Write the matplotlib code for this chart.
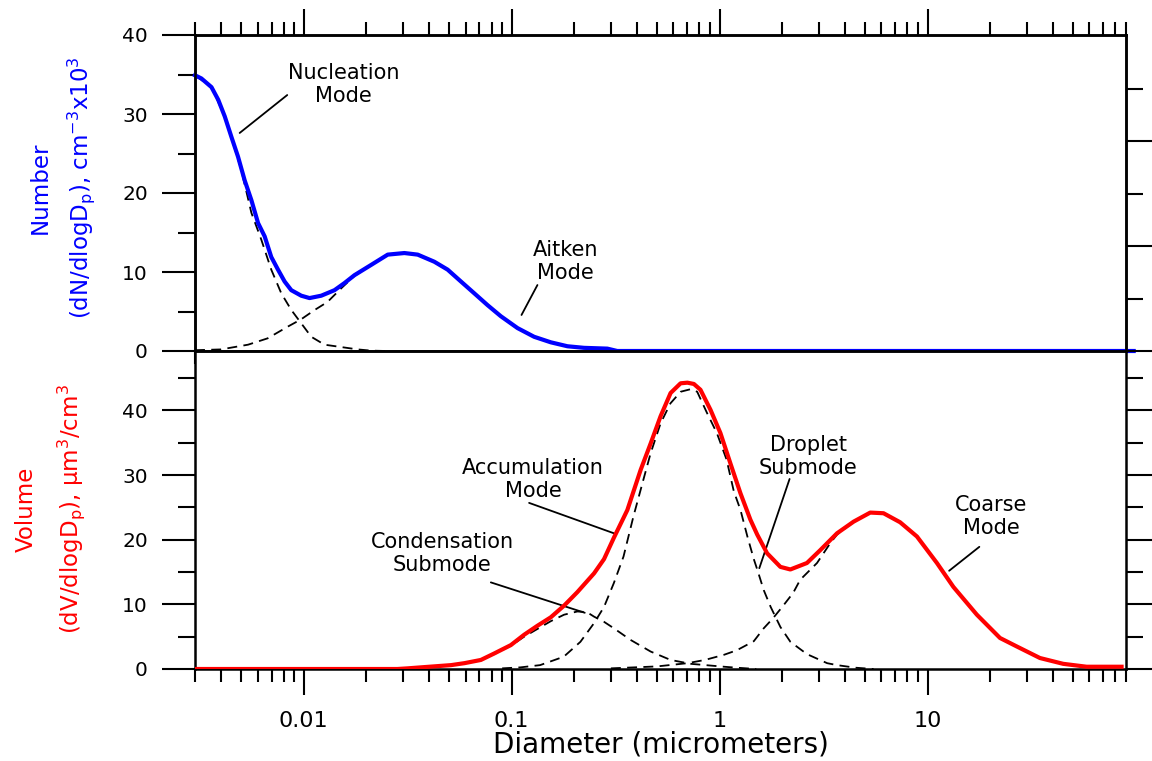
import numpy as np
import matplotlib
matplotlib.use("Agg")
import matplotlib.pyplot as plt
from matplotlib.ticker import FixedLocator, NullFormatter

# ---- datos ----
# panel superior: numero (dN/dlogDp, cm-3 x 10^3)
num_d = [0.003, 0.00322, 0.0036, 0.00388, 0.00417, 0.00449, 0.00483, 0.0052, 0.0056,
         0.00603, 0.00649, 0.00698, 0.00752, 0.00809, 0.00871, 0.00973, 0.01066, 0.01214,
         0.01406, 0.0157, 0.01754, 0.0211, 0.02535, 0.03048, 0.03532, 0.04246, 0.0492,
         0.057, 0.0661, 0.0766, 0.0887, 0.1067, 0.1282, 0.1542, 0.1854, 0.2228, 0.2884,
         0.322, 1.0, 10.0, 98.0]
num_total = [34.9, 34.5, 33.4, 31.8, 29.7, 27.1, 24.6, 21.6, 19.1,
             16.2, 14.5, 11.9, 10.3, 8.8, 7.7, 7.0, 6.7, 7.0,
             7.7, 8.6, 9.6, 10.9, 12.2, 12.4, 12.2, 11.3, 10.3,
             8.8, 7.3, 5.8, 4.4, 2.9, 1.8, 1.1, 0.6, 0.4, 0.3,
             0.0, 0.0, 0.0, 0.0]

nuc_d = [0.003, 0.0036, 0.00417, 0.00449, 0.0050, 0.0056, 0.00625, 0.00698, 0.0078,
         0.00871, 0.00973, 0.01087, 0.01258, 0.01513, 0.0182, 0.021, 0.025]
nuc = [34.9, 33.4, 29.7, 27.0, 23.0, 17.5, 14.1, 10.3, 7.3,
       5.2, 3.5, 1.8, 0.8, 0.5, 0.2, 0.05, 0.0]

ait_d = [0.003, 0.004, 0.0054, 0.0067, 0.0084, 0.0097, 0.0113, 0.013, 0.0151, 0.0175,
         0.0211, 0.02535, 0.03048, 0.03532, 0.04246, 0.0492, 0.057, 0.0661, 0.0766,
         0.0887, 0.1067, 0.1282, 0.1542, 0.1854, 0.2228, 0.2884, 0.322]
ait = [0.1, 0.2, 0.8, 1.6, 3.1, 4.0, 5.2, 6.2, 7.9, 9.5,
       10.9, 12.2, 12.4, 12.2, 11.3, 10.3, 8.8, 7.3, 5.8,
       4.4, 2.9, 1.8, 1.1, 0.6, 0.4, 0.3, 0.0]

# panel inferior: volumen (dV/dlogDp, um3/cm3)
vol_d = [0.003, 0.0282, 0.0316, 0.0511, 0.0592, 0.0711, 0.0824, 0.0991, 0.1148, 0.1331,
         0.1542, 0.1786, 0.207, 0.249, 0.278, 0.31, 0.36, 0.417, 0.466, 0.52, 0.581,
         0.649, 0.70, 0.752, 0.809, 0.904, 1.009, 1.127, 1.259, 1.406, 1.516, 1.692, 1.96,
         2.188, 2.63, 3.05, 3.67, 4.41, 5.3, 6.14, 7.38, 8.89, 11.09, 13.31, 17.26,
         22.3, 26.8, 34.7, 44.9, 58.2, 85.7]
vol_total = [0.0, 0.0, 0.1, 0.6, 0.9, 1.4, 2.4, 3.7, 5.3, 6.7,
             8.0, 9.8, 11.9, 14.8, 17.0, 20.3, 24.6, 30.8, 34.9, 39.1, 42.7,
             44.2, 44.3, 44.1, 43.2, 40.1, 36.5, 31.8, 27.2, 23.1, 20.8, 17.9, 15.8,
             15.4, 16.4, 18.4, 21.0, 22.8, 24.2, 24.1, 22.7, 20.5, 16.4, 12.7, 8.4,
             4.8, 3.5, 1.7, 0.8, 0.35, 0.35]

cond_d = [0.0316, 0.0511, 0.0592, 0.0711, 0.0824, 0.0991, 0.1148, 0.1331, 0.1542,
          0.1786, 0.207, 0.23, 0.249, 0.278, 0.31, 0.373, 0.466, 0.581, 0.727, 1.05,
          1.21, 1.5]
cond = [0.1, 0.6, 0.9, 1.4, 2.3, 3.6, 5.0, 6.2, 7.4,
        8.4, 8.9, 8.8, 8.1, 7.3, 6.3, 4.5, 2.7, 1.4, 0.8, 0.35,
        0.2, 0.0]

drop_d = [0.09, 0.11, 0.137, 0.178, 0.214, 0.249, 0.278, 0.31, 0.345, 0.385, 0.43,
          0.466, 0.52, 0.58, 0.65, 0.727, 0.78, 0.87, 0.97, 1.08, 1.17, 1.26, 1.36,
          1.46, 1.52, 1.63, 1.76, 1.96, 2.19, 2.63, 3.29, 3.67, 4.5, 5.5]
drop = [0.1, 0.25, 0.6, 1.9, 4.2, 7.1, 9.6, 13.3, 17.4, 23.6, 29.3,
        33.4, 38.0, 41.1, 42.9, 43.3, 42.9, 39.6, 36.5, 32.4, 27.5, 24.6, 20.5,
        17.0, 15.3, 12.2, 9.6, 6.5, 4.2, 2.3, 0.9, 0.6, 0.2, 0.0]

coarse_d = [0.3, 0.5, 0.7, 0.85, 1.05, 1.21, 1.46, 1.63, 1.8, 2.0, 2.26, 2.44, 2.94,
            3.41, 3.67, 4.41, 5.3, 6.14, 7.38, 8.89, 11.09, 13.31, 17.26, 22.3, 26.8,
            34.7, 44.9, 58.2, 85.7]
coarse = [0.1, 0.4, 0.9, 1.4, 2.2, 2.9, 4.3, 6.3, 7.8, 9.6, 11.8, 13.8, 16.4,
          19.5, 20.8, 22.8, 24.2, 24.1, 22.7, 20.5, 16.4, 12.7, 8.4, 4.8, 3.5,
          1.7, 0.8, 0.35, 0.35]

xtick_vals = [0.01, 0.1, 1, 10]
xtick_labels = ["0.01", "0.1", "1", "10"]

# ---- figura ----
W, H = 1152, 761
fig = plt.figure(figsize=(W / 100, H / 100), dpi=100)
L, R, T, M, B = 195, 1126, 35, 351, 669
ax1 = fig.add_axes([L / W, 1 - M / H, (R - L) / W, (M - T) / H])
ax2 = fig.add_axes([L / W, 1 - B / H, (R - L) / W, (B - M) / H])

dash = (0, (5.5, 3.5))
minor_x = FixedLocator([m * 10.0**e for e in range(-3, 2) for m in range(2, 10)])

for ax in (ax1, ax2):
    ax.set_xscale("log")
    ax.set_xlim(0.003, 90)
    for s in ax.spines.values():
        s.set_linewidth(1.8)
    ax.xaxis.set_major_locator(FixedLocator(xtick_vals))
    ax.xaxis.set_minor_locator(minor_x)
    ax.xaxis.set_minor_formatter(NullFormatter())
    ax.tick_params(axis="x", which="major", direction="out", length=19, width=1.5)
    ax.tick_params(axis="x", which="minor", direction="out", length=9.5, width=1.5)
    ax.tick_params(axis="y", which="major", direction="out", length=24, width=1.5,
                   labelsize=14.5, pad=10)
    ax.tick_params(axis="y", which="minor", direction="out", length=12, width=1.5)

# panel superior
ax1.plot(nuc_d, nuc, color="black", lw=1.3, ls=dash)
ax1.plot(ait_d, ait, color="black", lw=1.3, ls=dash)
ax1.plot(num_d, num_total, color="#0000FF", lw=3, clip_on=False, zorder=5)
ax1.set_ylim(0, 40)
ax1.set_yticks([0, 10, 20, 30, 40])
ax1.set_yticks([5, 15, 25, 35], minor=True)
ax1.tick_params(axis="x", which="both", top=True, bottom=True, labelbottom=False)

# escala derecha del panel superior (sin etiquetas)
axr = ax1.twinx()
axr.set_ylim(0, 60.2)
axr.set_yticks([0, 20, 40])
axr.set_yticks([10, 30, 50], minor=True)
axr.tick_params(axis="y", which="major", direction="out", length=24, width=1.5, labelright=False)
axr.tick_params(axis="y", which="minor", direction="out", length=12, width=1.5)
for s in axr.spines.values():
    s.set_linewidth(1.8)
ax1.tick_params(axis="y", which="both", left=True, right=False)

# etiquetas de los ejes y (dos lineas, rotadas)
lab = dict(rotation=90, rotation_mode="anchor", ha="center", va="baseline", fontsize=16.5)
fig.text(47 / W, 1 - 188 / H, "Number", color="#0000FF", **lab)
fig.text(88 / W, 1 - 188 / H,
         "(dN/dlogD$_\\mathregular{p}$), cm$^\\mathregular{-3}$x10$^\\mathregular{3}$",
         color="#0000FF", **lab)
fig.text(33 / W, 1 - 509 / H, "Volume", color="#FF0000", **lab)
fig.text(78 / W, 1 - 509 / H,
         "(dV/dlogD$_\\mathregular{p}$), \u03bcm$^\\mathregular{3}$/cm$^\\mathregular{3}$",
         color="#FF0000", **lab)

line = dict(arrowstyle="-", lw=1.3, color="black", shrinkA=0, shrinkB=0)
txt = dict(fontsize=15, ha="center", va="center", multialignment="center")

ax1.text(0.0155, 33.7, "Nucleation\nMode", **txt)
ax1.annotate("", xy=(0.00492, 27.6), xytext=(0.00833, 32.4), arrowprops=line)
ax1.text(0.182, 11.3, "Aitken\nMode", **txt)
ax1.annotate("", xy=(0.1115, 4.56), xytext=(0.133, 8.35), arrowprops=line)

# panel inferior
ax2.plot(cond_d, cond, color="black", lw=1.3, ls=dash)
ax2.plot(drop_d, drop, color="black", lw=1.3, ls=dash)
ax2.plot(coarse_d, coarse, color="black", lw=1.3, ls=dash)
ax2.plot(vol_d, vol_total, color="#FF0000", lw=3, zorder=5)
ax2.set_ylim(0, 49.2)
ax2.set_yticks([0, 10, 20, 30, 40])
ax2.set_yticks([5, 15, 25, 35, 45], minor=True)
ax2.tick_params(axis="x", which="both", top=False, bottom=True, labelsize=16, pad=11)
ax2.tick_params(axis="y", which="both", left=True, right=True)
ax2.set_xticklabels(xtick_labels)
ax2.set_xlabel("Diameter (micrometers)", fontsize=20, labelpad=0)

ax2.text(0.127, 29.3, "Accumulation\nMode", **txt)
ax2.annotate("", xy=(0.310, 21.0), xytext=(0.1213, 25.7), arrowprops=line)
ax2.text(0.0462, 17.9, "Condensation\nSubmode", **txt)
ax2.annotate("", xy=(0.2246, 8.7), xytext=(0.0794, 13.4), arrowprops=line)
ax2.text(2.67, 32.9, "Droplet\nSubmode", **txt)
ax2.annotate("", xy=(1.552, 15.6), xytext=(2.17, 29.4), arrowprops=line)
ax2.text(20.2, 23.6, "Coarse\nMode", **txt)
ax2.annotate("", xy=(12.7, 15.2), xytext=(17.74, 18.9), arrowprops=line)

fig.savefig("out.png", dpi=100)
